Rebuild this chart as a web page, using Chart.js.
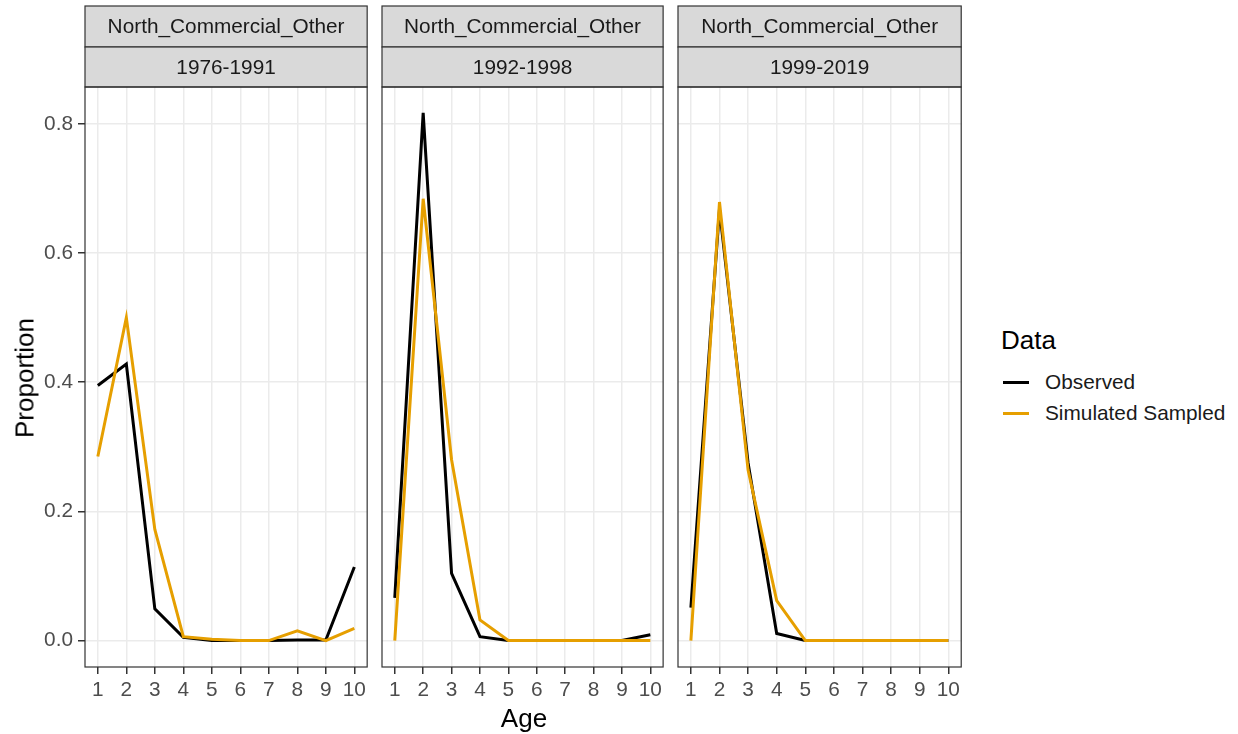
<!DOCTYPE html>
<html>
<head>
<meta charset="utf-8">
<script src="https://cdn.jsdelivr.net/npm/chart.js@4.4.1/dist/chart.umd.min.js"></script>
<style>
  body { margin: 0; background: #fff; font-family: "Liberation Sans", Arial, sans-serif; }
  #wrap { position: relative; width: 1238px; height: 734px; overflow: hidden; }
  canvas { position: absolute; top: 0; }
  .lbl { position: absolute; color: #000; white-space: nowrap; }
  .key { position: absolute; width: 26px; height: 3px; }
</style>
</head>
<body>
<div id="wrap">
  <canvas id="p1" width="370" height="734" style="left:0px"></canvas>
  <canvas id="p2" width="286" height="734" style="left:380px"></canvas>
  <canvas id="p3" width="288" height="734" style="left:676px"></canvas>

  <div class="lbl" style="left:25px; top:378px; font-size:26px; transform: translate(-50%,-50%) rotate(-90deg);">Proportion</div>
  <div class="lbl" style="left:524px; top:718px; font-size:26px; transform: translate(-50%,-50%);">Age</div>

  <div class="lbl" style="left:1001px; top:325px; font-size:26px;">Data</div>
  <div class="key" style="left:1003px; top:381px; background:#000;"></div>
  <div class="lbl" style="left:1045px; top:370px; font-size:20.8px; color:#1a1a1a;">Observed</div>
  <div class="key" style="left:1003px; top:412px; background:#E69F00;"></div>
  <div class="lbl" style="left:1045px; top:401px; font-size:20.8px; color:#1a1a1a;">Simulated Sampled</div>
</div>
<script>
// ---- data ----
const ages = [1, 2, 3, 4, 5, 6, 7, 8, 9, 10];
const stratum = 'North_Commercial_Other';
const periods = ['1976-1991', '1992-1998', '1999-2019'];
const yTicks = [0, 0.2, 0.4, 0.6, 0.8];

const obs1976 = [0.395, 0.428, 0.049, 0.005, 0.0, 0.0, 0.0, 0.001, 0.001, 0.114];
const sim1976 = [0.285, 0.500, 0.172, 0.006, 0.002, 0.0, 0.0, 0.015, 0.0, 0.019];
const obs1992 = [0.066, 0.817, 0.104, 0.006, 0.0, 0.0, 0.0, 0.0, 0.0, 0.009];
const sim1992 = [0.0, 0.684, 0.280, 0.032, 0.0, 0.0, 0.0, 0.0, 0.0, 0.0];
const obs1999 = [0.051, 0.668, 0.275, 0.011, 0.0, 0.0, 0.0, 0.0, 0.0, 0.0];
const sim1999 = [0.0, 0.679, 0.264, 0.062, 0.0, 0.0, 0.0, 0.0, 0.0, 0.0];

const observedColor = '#000000';
const simulatedColor = '#E69F00';
const font = 'Liberation Sans, Arial, sans-serif';
const smallSize = 20.8;

// strips + panel border, drawn around the chart area
const facetFrame = {
    id: 'facetFrame',
    afterDraw(chart, args, opts) {
        const { ctx, chartArea } = chart;
        const left = chartArea.left, w = chartArea.right - chartArea.left;
        ctx.save();
        ctx.lineWidth = 1.2;
        ctx.strokeStyle = '#333333';
        const strips = [[6, 41, stratum], [47, 40, opts.period]];
        strips.forEach(([top, h, text]) => {
            ctx.fillStyle = '#d9d9d9';
            ctx.fillRect(left, top, w, h);
            ctx.strokeRect(left, top, w, h);
            ctx.fillStyle = '#1a1a1a';
            ctx.font = smallSize + 'px ' + font;
            ctx.textAlign = 'center';
            ctx.textBaseline = 'middle';
            ctx.fillText(text, left + w / 2, top + h / 2 + 1);
        });
        ctx.strokeRect(left, chartArea.top, w, chartArea.bottom - chartArea.top);
        ctx.restore();
    }
};

function series(values) {
    return ages.map((a, i) => ({ x: a, y: values[i] }));
}

function makePanel(id, period, obs, sim, first) {
    const ctx = document.getElementById(id).getContext('2d');
    return new Chart(ctx, {
        type: 'line',
        data: {
            datasets: [
                // simulated drawn on top of observed
                { label: 'Observed', data: series(obs), borderColor: observedColor, borderWidth: 3, pointRadius: 0, tension: 0, order: 2 },
                { label: 'Simulated Sampled', data: series(sim), borderColor: simulatedColor, borderWidth: 3, pointRadius: 0, tension: 0, order: 1 }
            ]
        },
        options: {
            responsive: false,
            animation: false,
            layout: { padding: { top: 87, bottom: 0, left: first ? 0 : 2, right: 2 } },
            plugins: {
                legend: { display: false },
                tooltip: { enabled: false },
                facetFrame: { period: period }
            },
            scales: {
                x: {
                    type: 'linear',
                    min: 0.55,
                    max: 10.45,
                    afterBuildTicks: s => { s.ticks = ages.map(v => ({ value: v })); },
                    afterFit: s => { s.height = 67; },
                    border: { display: false },
                    grid: { color: '#ebebeb', lineWidth: 1.5, tickColor: '#333333', tickLength: 7 },
                    ticks: { color: '#4d4d4d', font: { family: font, size: smallSize }, padding: 4, maxRotation: 0, autoSkip: false }
                },
                y: {
                    min: -0.0409,
                    max: 0.857,
                    afterBuildTicks: s => { s.ticks = yTicks.map(v => ({ value: v })); },
                    afterFit: s => { s.width = first ? 85 : 0; },
                    border: { display: false },
                    grid: { color: '#ebebeb', lineWidth: 1.5, tickColor: '#333333', tickLength: 7, drawTicks: first },
                    ticks: { display: first, color: '#4d4d4d', font: { family: font, size: smallSize }, padding: 5, callback: v => v.toFixed(1) }
                }
            }
        },
        plugins: [facetFrame]
    });
}

makePanel('p1', periods[0], obs1976, sim1976, true);
makePanel('p2', periods[1], obs1992, sim1992, false);
makePanel('p3', periods[2], obs1999, sim1999, false);
</script>
</body>
</html>
